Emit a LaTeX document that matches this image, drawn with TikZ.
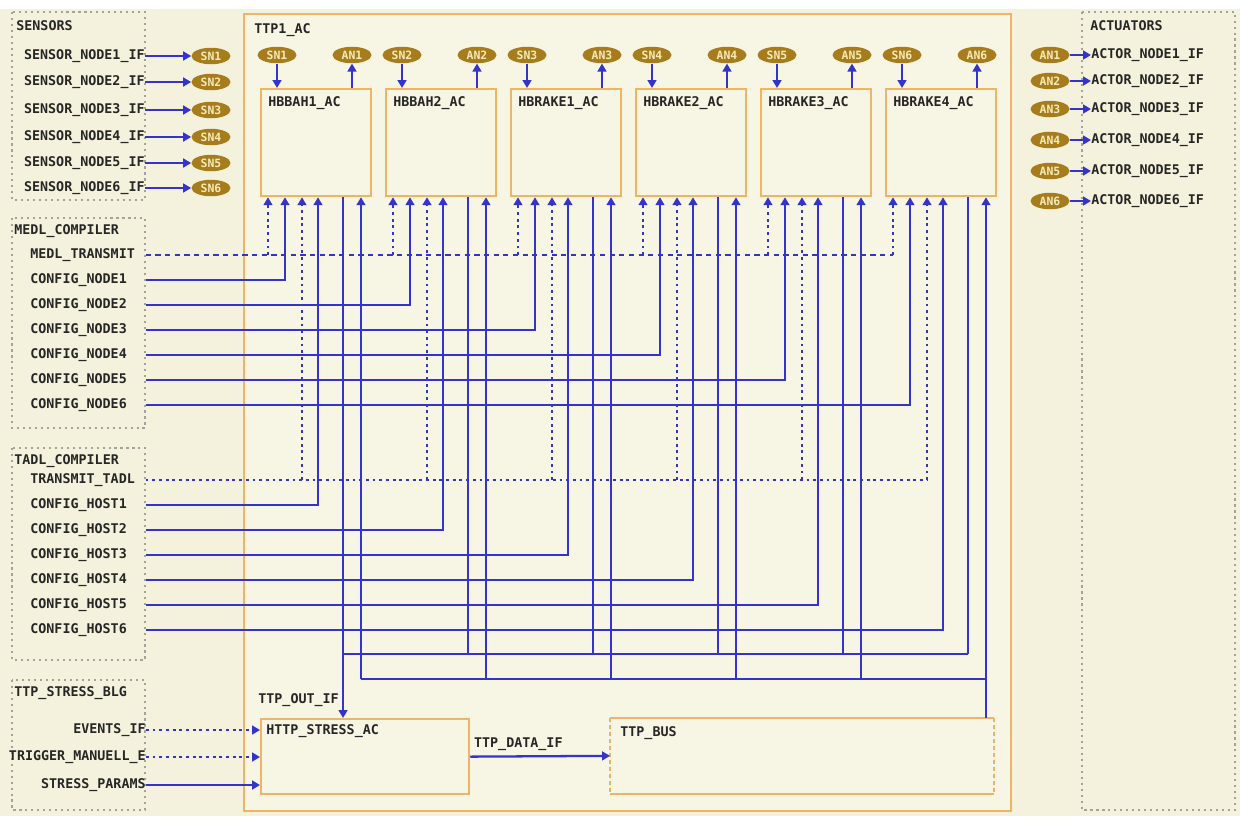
\documentclass[tikz,border=0pt]{standalone}
\usepackage{fontspec}
\usepackage{tikz}
\usetikzlibrary{arrows.meta, calc, positioning, shapes.geometric}
\usepackage{xcolor}
\newfontfamily\pixfont{DejaVu Sans Mono}

\definecolor{paper}{HTML}{F4F2DC}
\definecolor{boxfill}{HTML}{F7F5E3}
\definecolor{boxline}{HTML}{F0B465}
\definecolor{gold}{HTML}{A67C1C}
\definecolor{goldtext}{HTML}{F6EBB8}
\definecolor{wireblue}{HTML}{3434CC}
\definecolor{grpline}{HTML}{A3A39A}

\tikzset{
  lbl/.style={font=\pixfont\bfseries\fontsize{7.6}{8}\selectfont, text=black!85, inner sep=0pt},
  cfg/.style={lbl, anchor=west, text width=2.3cm, align=left},
  grp/.style={draw=grpline, line width=0.8pt, dash pattern=on 1.2pt off 2.2pt},
  acbox/.style={draw=boxline, fill=boxfill, line width=1.3pt, inner sep=0pt},
  sig/.style={ellipse, fill=gold, text=goldtext, minimum width=0.78cm, minimum height=0.33cm, inner sep=0pt, font=\pixfont\bfseries\fontsize{6.5}{7}\selectfont},
  wire/.style={draw=wireblue, line width=1.3pt},
  dwire/.style={wire, line width=1.1pt, dash pattern=on 3pt off 2.5pt},
  owire/.style={wire, line width=1.1pt, dash pattern=on 1.6pt off 2.2pt},
  tip/.style={-{Triangle[length=4.5pt,width=5pt]}},
}

\begin{document}
\begin{tikzpicture}[x=0.02cm, y=-0.02cm]
    % Hintergrund
    \fill[paper] (0,0) rectangle (1240,816);
    \fill[white] (0,0) rectangle (1240,9);
    \useasboundingbox (0,0) rectangle (1240,816);

    % TTP1_AC
    \node[acbox, anchor=north west, minimum width=15.34cm, minimum height=15.94cm,
          label={[lbl, anchor=north west, xshift=0.22cm, yshift=-0.2cm]north west:TTP1\_AC}] (ttp) at (243,13) {};

    % Sensoren
    \draw[grp] (12,12) rectangle (145,200);
    \node[lbl, anchor=west] (sensors) at (16,26) {SENSORS};
    \foreach \i/\y in {1/56,2/82,3/110,4/137,5/163,6/188}{
        \node[lbl, anchor=east] (sif\i) at (145,\y) {SENSOR\_NODE\i\_IF};
        \node[sig] (sn\i) at (211,\y) {SN\i};
        \draw[wire, tip] (sif\i.east) -- (sn\i.west);
    }

    % Aktoren
    \draw[grp] (1082,12) rectangle (1235,810);
    \node[lbl, anchor=west] (actuators) at (1090,26) {ACTUATORS};
    \foreach \i/\y in {1/55,2/81,3/109,4/140,5/171,6/201}{
        \node[sig] (an\i) at (1050,\y) {AN\i};
        \node[lbl, anchor=west] (aif\i) at (1091,\y) {ACTOR\_NODE\i\_IF};
        \draw[wire, tip] (an\i.east) -- (aif\i.west);
    }

    % Knoten
    \foreach \i/\name in {1/HBBAH1\_AC,2/HBBAH2\_AC,3/HBRAKE1\_AC,4/HBRAKE2\_AC,5/HBRAKE3\_AC,6/HBRAKE4\_AC}{
        \node[acbox, anchor=north west, minimum width=2.2cm, minimum height=2.14cm,
              label={[lbl, anchor=north west, xshift=0.16cm, yshift=-0.16cm]north west:\name}] (hb\i) at ({260+125*(\i-1)},88) {};
        \coordinate (pm\i)   at ($(hb\i.south west)+(8,0)$);
        \coordinate (pcn\i)  at ($(hb\i.south west)+(25,0)$);
        \coordinate (ptd\i)  at ($(hb\i.south west)+(42,0)$);
        \coordinate (pch\i)  at ($(hb\i.south west)+(58,0)$);
        \coordinate (pout\i) at ($(hb\i.south west)+(83,0)$);
        \coordinate (pin\i)  at ($(hb\i.south west)+(101,0)$);
        \node[sig] (isn\i) at ($(hb\i.north west)+(17,-33)$) {SN\i};
        \node[sig] (ian\i) at ($(hb\i.north west)+(92,-33)$) {AN\i};
        \draw[wire, tip] (isn\i.south) -- (isn\i |- hb\i.north);
        \draw[wire, tip] (ian\i |- hb\i.north) -- (ian\i.south);
    }

    % MEDL_COMPILER
    \draw[grp] (12,218) rectangle (145,428);
    \node[lbl, anchor=west] (medlc) at (14,231) {MEDL\_COMPILER};
    \node[cfg] (medl) at (30,255) {MEDL\_TRANSMIT};
    \draw[dwire] (medl.east) -- (medl.east -| pm6);
    \foreach \i in {1,...,6} \draw[owire, tip] (medl.east -| pm\i) -- (pm\i);
    \foreach \i/\y in {1/280,2/305,3/330,4/355,5/380,6/405}{
        \node[cfg] (cn\i) at (30,\y) {CONFIG\_NODE\i};
        \draw[wire, tip] (cn\i.east) -| (pcn\i);
    }

    % TADL_COMPILER
    \draw[grp] (12,448) rectangle (145,660);
    \node[lbl, anchor=west] (tadlc) at (14,461) {TADL\_COMPILER};
    \node[cfg] (tadl) at (30,480) {TRANSMIT\_TADL};
    \draw[owire] (tadl.east) -- (tadl.east -| ptd6);
    \foreach \i in {1,...,6} \draw[owire, tip] (tadl.east -| ptd\i) -- (ptd\i);
    \foreach \i/\y in {1/505,2/530,3/555,4/580,5/605,6/630}{
        \node[cfg] (ch\i) at (30,\y) {CONFIG\_HOST\i};
        \draw[wire, tip] (ch\i.east) -| (pch\i);
    }

    % Stress-Block und Bus
    \node[acbox, anchor=north west, minimum width=4.16cm, minimum height=1.5cm,
          label={[lbl, anchor=north west, xshift=0.12cm, yshift=-0.12cm]north west:HTTP\_STRESS\_AC}] (stress) at (260,718) {};
    \node[fill=boxfill, inner sep=0pt, anchor=north west, minimum width=7.66cm, minimum height=1.5cm,
          label={[lbl, anchor=north west, xshift=0.2cm, yshift=-0.16cm]north west:TTP\_BUS}] (bus) at (610,718) {};
    \draw[boxline, line width=1.3pt] (bus.north west) -- (bus.north east) (bus.south west) -- (bus.south east);
    \draw[boxline, line width=1pt, dash pattern=on 2pt off 2pt] (bus.north west) -- (bus.south west) (bus.north east) -- (bus.south east);

    \coordinate (obus) at (0,654);
    \coordinate (ibus) at (0,679);
    \draw[wire] (pout1 |- obus) -- (pout6 |- obus);
    \foreach \i in {2,...,6} \draw[wire] (pout\i) -- (pout\i |- obus);
    \draw[wire, tip] (pout1) -- (pout1 |- stress.north);
    \node[lbl, anchor=west] (outif) at (258,700) {TTP\_OUT\_IF};
    \draw[wire] (pin1 |- ibus) -- (pin6 |- ibus);
    \foreach \i in {1,...,5} \draw[wire, tip] (pin\i |- ibus) -- (pin\i);
    \draw[wire, tip] (pin6 |- bus.north) -- (pin6);

    \draw[wire, tip] (stress.east) -- (bus.west);
    \node[lbl, anchor=south west] (dataif) at ([xshift=2pt, yshift=3pt]stress.east) {TTP\_DATA\_IF};

    % TTP_STRESS_BLG
    \draw[grp] (12,680) rectangle (145,810);
    \node[lbl, anchor=west] (blg) at (14,693) {TTP\_STRESS\_BLG};
    \node[lbl, anchor=east] (evif) at (146,730) {EVENTS\_IF};
    \node[lbl, anchor=east] (trig) at (146,757) {TRIGGER\_MANUELL\_E};
    \node[lbl, anchor=east] (spar) at (146,785) {STRESS\_PARAMS};
    \draw[owire, tip] (evif.east) -- (evif.east -| stress.west);
    \draw[owire, tip] (trig.east) -- (trig.east -| stress.west);
    \draw[wire, tip] (spar.east) -- (spar.east -| stress.west);
\end{tikzpicture}
\end{document}
